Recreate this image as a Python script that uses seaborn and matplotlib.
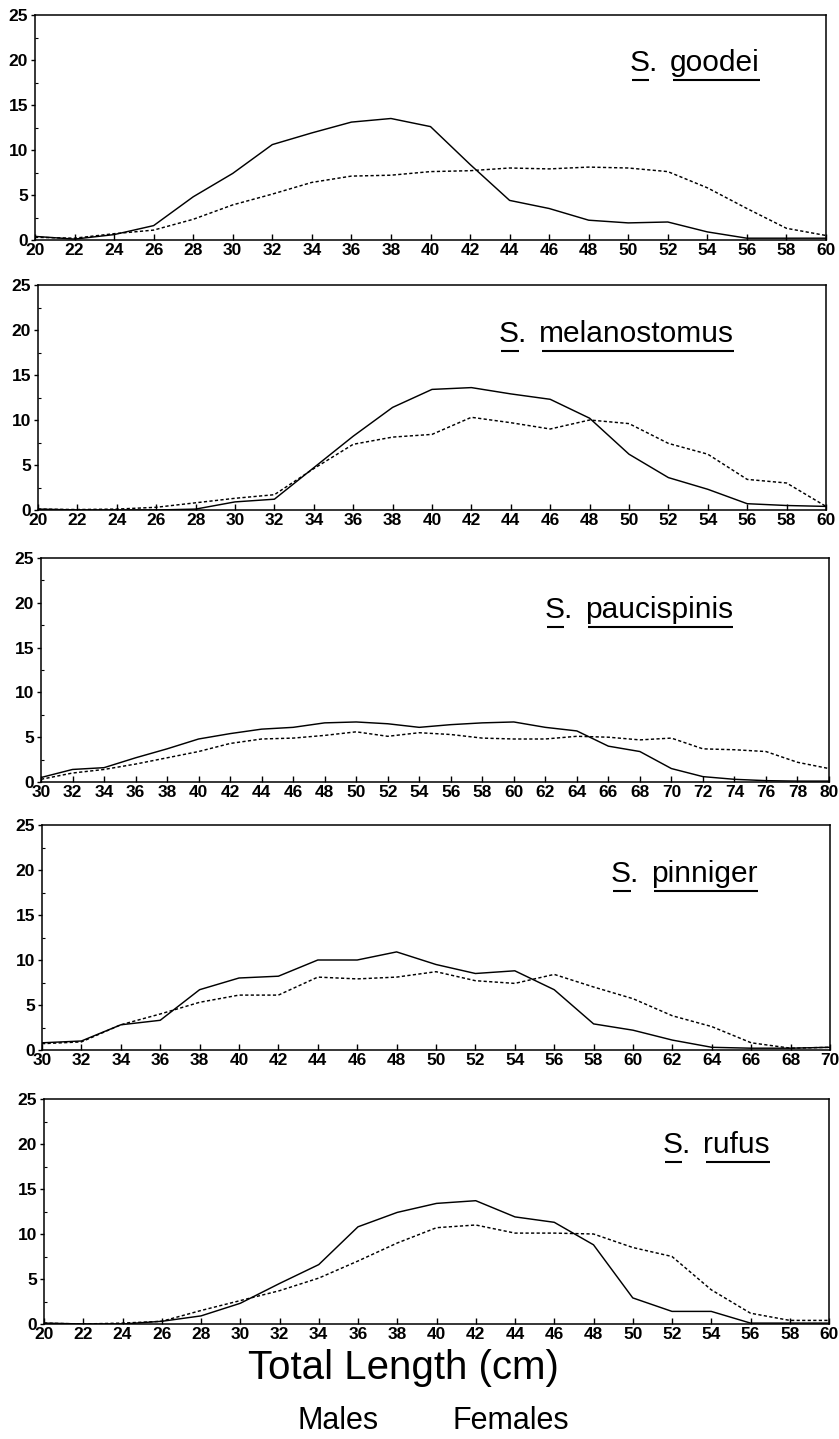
import matplotlib
matplotlib.use("Agg")
import matplotlib.pyplot as plt
from matplotlib.ticker import MultipleLocator
import numpy as np
import pandas as pd
import seaborn as sns

# ---------------- data ----------------
goodei_len = list(range(20, 61, 2))
goodei_m = [0.4, 0.1, 0.6, 1.6, 4.8, 7.4, 10.6, 11.9, 13.1, 13.5, 12.6, 8.4, 4.4, 3.5, 2.2, 1.9, 2.0, 0.9, 0.2, 0.2, 0.2]
goodei_f = [0.3, 0.2, 0.7, 1.1, 2.3, 3.9, 5.1, 6.4, 7.1, 7.2, 7.6, 7.7, 8.0, 7.9, 8.1, 8.0, 7.6, 5.8, 3.5, 1.3, 0.5]

melano_len = list(range(20, 61, 2))
melano_m = [0.1, 0.0, 0.0, 0.0, 0.1, 0.9, 1.2, 4.7, 8.2, 11.4, 13.4, 13.6, 12.9, 12.3, 10.2, 6.2, 3.6, 2.3, 0.7, 0.5, 0.4]
melano_f = [0.1, 0.05, 0.1, 0.3, 0.8, 1.3, 1.7, 4.6, 7.3, 8.1, 8.4, 10.3, 9.7, 9.0, 10.0, 9.6, 7.4, 6.2, 3.4, 3.0, 0.4]

pauci_len = list(range(30, 81, 2))
pauci_m = [0.5, 1.4, 1.6, 2.7, 3.7, 4.8, 5.4, 5.9, 6.1, 6.6, 6.7, 6.5, 6.1, 6.4, 6.6, 6.7, 6.1, 5.7, 4.0, 3.4, 1.5, 0.6, 0.3, 0.15, 0.1, 0.1]
pauci_f = [0.3, 1.0, 1.4, 2.0, 2.7, 3.4, 4.3, 4.8, 4.9, 5.2, 5.6, 5.1, 5.5, 5.3, 4.9, 4.8, 4.8, 5.1, 5.0, 4.7, 4.9, 3.7, 3.6, 3.4, 2.2, 1.5]

pinn_len = list(range(30, 71, 2))
pinn_m = [0.8, 1.0, 2.8, 3.3, 6.7, 8.0, 8.2, 10.0, 10.0, 10.9, 9.5, 8.5, 8.8, 6.7, 2.9, 2.2, 1.1, 0.3, 0.2, 0.2, 0.3]
pinn_f = [0.7, 0.9, 2.8, 4.0, 5.3, 6.1, 6.1, 8.1, 7.9, 8.1, 8.7, 7.7, 7.4, 8.4, 7.0, 5.7, 3.8, 2.6, 0.8, 0.2, 0.3]

rufus_len = list(range(20, 61, 2))
rufus_m = [0.1, 0.0, 0.0, 0.3, 0.9, 2.3, 4.5, 6.6, 10.8, 12.4, 13.4, 13.7, 11.9, 11.3, 8.8, 2.9, 1.4, 1.4, 0.1, 0.1, 0.1]
rufus_f = [0.1, 0.0, 0.1, 0.3, 1.5, 2.6, 3.7, 5.1, 7.0, 9.0, 10.7, 11.0, 10.1, 10.1, 10.0, 8.5, 7.5, 3.8, 1.2, 0.4, 0.4]

species = ["goodei", "melanostomus", "paucispinis", "pinniger", "rufus"]
lengths = [goodei_len, melano_len, pauci_len, pinn_len, rufus_len]
males = [goodei_m, melano_m, pauci_m, pinn_m, rufus_m]
females = [goodei_f, melano_f, pauci_f, pinn_f, rufus_f]
y_ticks = [0, 5, 10, 15, 20, 25]
sex_labels = ["Males", "Females"]
x_label = "Total Length (cm)"

# ---------------- layout (pixels) ----------------
W, H = 839, 1439
# left, right, top, bottom
boxes = [(35, 826, 15, 240), (38, 826, 285, 510), (41, 829, 558, 782),
         (42, 830, 825, 1050), (44, 829, 1099, 1324)]
title_x = [0.752, 0.585, 0.639, 0.722, 0.788]
title_y = [0.75, 0.747, 0.73, 0.748, 0.76]

sns.set_theme(style="ticks", rc={"axes.edgecolor": "black", "xtick.color": "black",
                                 "ytick.color": "black", "axes.linewidth": 1.1,
                                 "text.color": "black", "axes.labelcolor": "black"})
plt.rcParams["font.family"] = ["Liberation Sans", "DejaVu Sans"]

fig = plt.figure(figsize=(W / 100, H / 100), dpi=100)
renderer = fig.canvas.get_renderer()

for i in range(5):
    l, r, t, b = boxes[i]
    ax = fig.add_axes([l / W, 1 - b / H, (r - l) / W, (b - t) / H])
    df = pd.DataFrame({
        "length": lengths[i] * 2,
        "pct": males[i] + females[i],
        "sex": ["Males"] * len(lengths[i]) + ["Females"] * len(lengths[i]),
    })
    sns.lineplot(data=df, x="length", y="pct", hue="sex", style="sex",
                 palette={"Males": "black", "Females": "black"},
                 dashes={"Males": "", "Females": (2.2, 1.6)},
                 errorbar=None, legend=False, linewidth=1.05, ax=ax)
    ax.set_xlim(lengths[i][0], lengths[i][-1])
    ax.set_ylim(0, 25)
    ax.set_xticks(lengths[i])
    ax.set_xticklabels([str(v) for v in lengths[i]], fontweight="bold", fontsize=12.5, color="black")
    ax.set_yticks(y_ticks)
    ax.set_yticklabels([str(v) for v in y_ticks], fontweight="bold", fontsize=12.5, color="black")
    ax.yaxis.set_minor_locator(MultipleLocator(2.5))
    ax.tick_params(axis="x", direction="in", length=4, width=1, pad=2)
    ax.tick_params(axis="y", which="major", direction="out", length=3, width=1, pad=2)
    ax.tick_params(axis="y", which="minor", direction="in", length=2, width=0.8)
    ax.set_xlabel("")
    ax.set_ylabel("")
    for s in ax.spines.values():
        s.set_visible(True)
        s.set_color("black")
        s.set_linewidth(1.1)

    # species title with separate underlines
    t1 = ax.text(title_x[i], title_y[i], "S.", transform=ax.transAxes,
                 fontsize=21.5, va="baseline", ha="left", color="black")
    bb1 = t1.get_window_extent(renderer)
    inv = ax.transAxes.inverted()
    x2 = inv.transform((bb1.x1 + 12, 0))[0]
    t2 = ax.text(x2, title_y[i], species[i], transform=ax.transAxes,
                 fontsize=21.5, va="baseline", ha="left", color="black")
    bb2 = t2.get_window_extent(renderer)
    base_disp = ax.transAxes.transform((0, title_y[i]))[1]
    uy = base_disp - 9
    s_w = bb1.width * 0.62
    for (xa, xb) in [(bb1.x0 + 2, bb1.x0 + 2 + s_w), (bb2.x0 + 3, bb2.x1)]:
        pa = inv.transform((xa, uy))
        pb = inv.transform((xb, uy))
        ax.plot([pa[0], pb[0]], [pa[1], pb[1]], transform=ax.transAxes,
                color="black", lw=1.5, solid_capstyle="butt", clip_on=False)

fig.text(403 / W, 1 - 1379 / H, x_label, ha="center", va="baseline", fontsize=29, color="black")
fig.text(338 / W, 1 - 1429 / H, sex_labels[0], ha="center", va="baseline", fontsize=22, color="black")
fig.text(511 / W, 1 - 1429 / H, sex_labels[1], ha="center", va="baseline", fontsize=22, color="black")

fig.savefig("out.png", dpi=100, facecolor="white")
